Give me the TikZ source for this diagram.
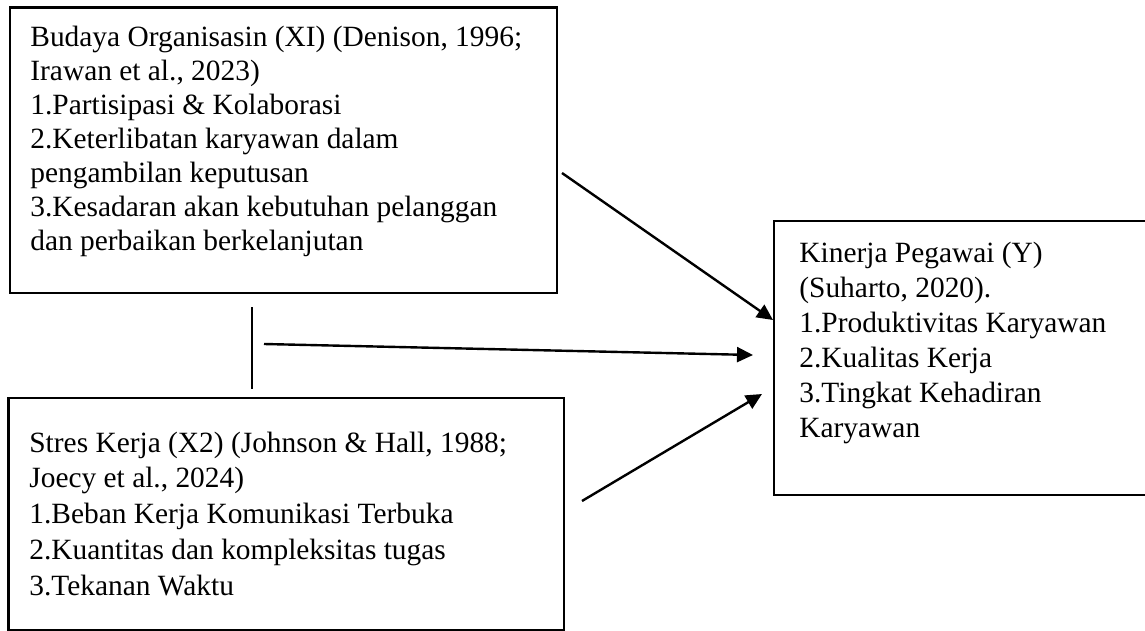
\documentclass[tikz,border=0pt]{standalone}
\usepackage{fontspec}
\setmainfont{Liberation Serif}
\usetikzlibrary{arrows.meta}
\begin{document}
\begin{tikzpicture}[x=0.5pt,y=-0.5pt,
  boxstyle/.style={draw, line width=1.45pt, inner sep=0pt, rectangle},
  txt/.style={anchor=base west, inner sep=0pt, font=\fontsize{14.7pt}{#1}\selectfont},
  arr/.style={line width=1.2pt, -{Triangle[length=8pt,width=7.5pt]}},
  plain/.style={line width=1.2pt}]
\clip (0,0) rectangle (1145,631);
\fill[white] (0,0) rectangle (1145,631);
% boxes
\node[boxstyle, minimum width=273.5pt, minimum height=142.75pt] (b1) at (283.5,150.25) {};
\node[boxstyle, minimum width=277.75pt, minimum height=116pt] (b2) at (286.25,514) {};
\node[boxstyle, minimum width=188pt, minimum height=137pt] (b3) at (962,358) {};
% texts
\node[txt=16.95pt] (t1) at (30,47) {\begin{tabular}[t]{@{}l@{}}Budaya Organisasin (XI) (Denison, 1996;\\Irawan et al., 2023)\\1.Partisipasi \& Kolaborasi\\2.Keterlibatan karyawan dalam\\pengambilan keputusan\\3.Kesadaran akan kebutuhan pelanggan\\dan perbaikan berkelanjutan\end{tabular}};
\node[txt=17.9pt] (t2) at (29,452) {\begin{tabular}[t]{@{}l@{}}Stres Kerja (X2) (Johnson \& Hall, 1988;\\Joecy et al., 2024)\\1.Beban Kerja Komunikasi Terbuka\\2.Kuantitas dan kompleksitas tugas\\3.Tekanan Waktu\end{tabular}};
\node[txt=17.5pt] (t3) at (799,262) {\begin{tabular}[t]{@{}l@{}}Kinerja Pegawai (Y)\\(Suharto, 2020).\\1.Produktivitas Karyawan\\2.Kualitas Kerja\\3.Tingkat Kehadiran\\Karyawan\end{tabular}};
% connector end points
\coordinate (a1s) at (562,173);
\coordinate (a1e) at (773,320);
\coordinate (a2s) at (264,344);
\coordinate (a2e) at (753,355);
\coordinate (a3s) at (582,501);
\coordinate (a3e) at (762,394);
\coordinate (vtop) at (252,307);
\coordinate (vbot) at (252,389);
% connectors
\draw[arr] (a1s) -- (a1e);
\draw[arr] (a2s) -- (a2e);
\draw[arr] (a3s) -- (a3e);
\draw[plain] (vtop) -- (vbot);
\end{tikzpicture}
\end{document}
